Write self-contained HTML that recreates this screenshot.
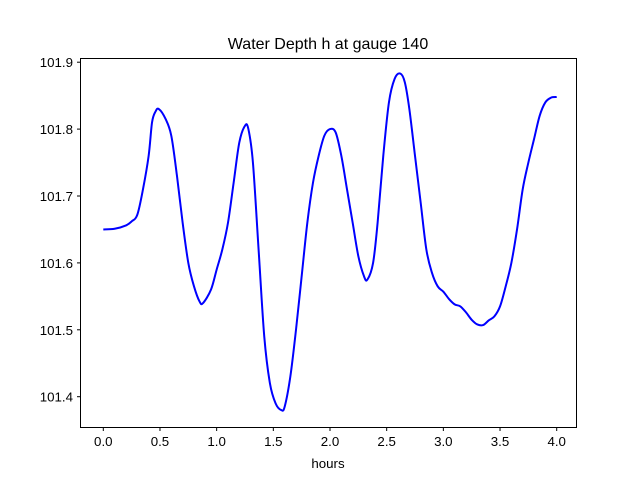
<!DOCTYPE html>
<html><head><meta charset="utf-8"><style>
body{margin:0;background:#fff}
svg text{font-family:"Liberation Sans","DejaVu Sans",sans-serif;fill:#000}
</style></head><body>
<svg id="chart" width="640" height="480" viewBox="0 0 640 480">
<rect width="640" height="480" fill="#fff"/>
<text x="328" y="49" font-size="16" text-anchor="middle">Water Depth h at gauge 140</text>
<g id="xticks"></g>
<g id="yticks"></g>
<path id="line" fill="none" stroke="#0000ff" stroke-width="2" stroke-linejoin="round"/>
<rect x="80.5" y="58.5" width="496" height="369" fill="none" stroke="#000" stroke-width="1"/>
<text x="328" y="468" font-size="13.3" text-anchor="middle">hours</text>
</svg>
<script>
const times=[0,0.1,0.2,0.25,0.3,0.35,0.4,0.43,0.46,0.49,0.55,0.6,0.65,0.7,0.75,0.8,0.85,0.88,0.95,1.0,1.05,1.1,1.15,1.2,1.25,1.28,1.32,1.37,1.42,1.47,1.52,1.57,1.6,1.65,1.7,1.75,1.8,1.85,1.9,1.95,2.0,2.05,2.1,2.15,2.2,2.25,2.3,2.33,2.38,2.42,2.47,2.52,2.57,2.62,2.66,2.7,2.75,2.8,2.85,2.9,2.95,3.0,3.05,3.1,3.15,3.2,3.25,3.3,3.35,3.4,3.45,3.5,3.55,3.6,3.65,3.7,3.75,3.8,3.85,3.9,3.95,4.0];
const depths=[101.65,101.651,101.656,101.662,101.672,101.71,101.76,101.81,101.826,101.83,101.815,101.79,101.73,101.66,101.6,101.565,101.542,101.54,101.56,101.59,101.62,101.66,101.72,101.78,101.805,101.80,101.75,101.62,101.49,101.42,101.39,101.38,101.385,101.43,101.5,101.58,101.66,101.72,101.76,101.79,101.80,101.795,101.76,101.71,101.66,101.61,101.58,101.575,101.6,101.66,101.76,101.84,101.875,101.883,101.87,101.83,101.76,101.69,101.62,101.585,101.565,101.557,101.546,101.538,101.535,101.526,101.515,101.508,101.507,101.514,101.52,101.535,101.565,101.6,101.65,101.71,101.75,101.785,101.82,101.84,101.847,101.848];
const xTickLabels=["0.0","0.5","1.0","1.5","2.0","2.5","3.0","3.5","4.0"];
const yTickLabels=["101.4","101.5","101.6","101.7","101.8","101.9"];
const NS="http://www.w3.org/2000/svg";
function xs(t){return 103.3+(t-0)*113.35;}
function ys(h){return 396.7-(h-101.4)*669;}
const xg=document.getElementById('xticks'),yg=document.getElementById('yticks');
xTickLabels.forEach(l=>{const x=xs(parseFloat(l));
 const ln=document.createElementNS(NS,'line');
 
 
 ln.setAttribute('x1',x);ln.setAttribute('x2',x);ln.setAttribute('y1',427.5);ln.setAttribute('y2',431);ln.setAttribute('stroke','#000');xg.appendChild(ln);
 const t=document.createElementNS(NS,'text');
 
 
 t.setAttribute('x',x);t.setAttribute('y',446);t.setAttribute('font-size','13.3');t.setAttribute('text-anchor','middle');t.textContent=l;xg.appendChild(t);});
yTickLabels.forEach(l=>{const y=ys(parseFloat(l));
 const ln=document.createElementNS(NS,'line');
 
 
 ln.setAttribute('x1',77);ln.setAttribute('x2',80.5);ln.setAttribute('y1',y);ln.setAttribute('y2',y);ln.setAttribute('stroke','#000');yg.appendChild(ln);
 const t=document.createElementNS(NS,'text');
 
 
 t.setAttribute('x',73);t.setAttribute('y',y+5);t.setAttribute('font-size','13.3');t.setAttribute('text-anchor','end');t.textContent=l;yg.appendChild(t);});
const P=times.map((t,i)=>[xs(t),ys(depths[i])]);
let d='M'+P[0][0]+','+P[0][1];
for(let i=0;i<P.length-1;i++){const p0=P[Math.max(0,i-1)],p1=P[i],p2=P[i+1],p3=P[Math.min(P.length-1,i+2)];
 const c1=[p1[0]+(p2[0]-p0[0])/6,p1[1]+(p2[1]-p0[1])/6],c2=[p2[0]-(p3[0]-p1[0])/6,p2[1]-(p3[1]-p1[1])/6];
 d+=' C'+c1+' '+c2+' '+p2;}
document.getElementById('line').setAttribute('d',d);
</script>
</body></html>
